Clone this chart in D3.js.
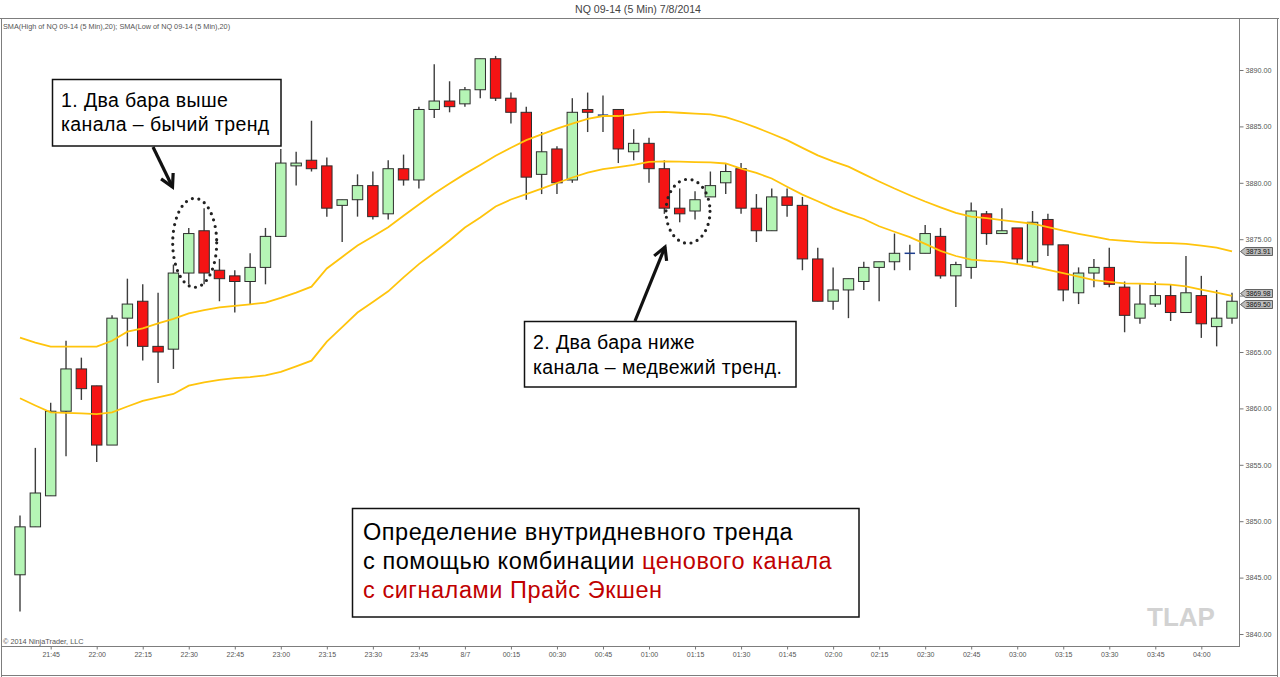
<!DOCTYPE html>
<html><head><meta charset="utf-8">
<script src="https://cdn.jsdelivr.net/npm/d3@7"></script>
<style>
body{margin:0;background:#fff}
svg{display:block}
text{font-family:Arial,"Liberation Sans",sans-serif}
</style>
</head><body>
<svg id="c" width="1280" height="677"></svg>
<script>
// ---------- data ----------
const times = ["21:35","21:40","21:45","21:50","21:55","22:00","22:05","22:10","22:15","22:20","22:25","22:30","22:35","22:40","22:45","22:50","22:55","23:00","23:05","23:10","23:15","23:20","23:25","23:30","23:35","23:40","23:45","23:50","23:55","00:00","00:05","00:10","00:15","00:20","00:25","00:30","00:35","00:40","00:45","00:50","00:55","01:00","01:05","01:10","01:15","01:20","01:25","01:30","01:35","01:40","01:45","01:50","01:55","02:00","02:05","02:10","02:15","02:20","02:25","02:30","02:35","02:40","02:45","02:50","02:55","03:00","03:05","03:10","03:15","03:20","03:25","03:30","03:35","03:40","03:45","03:50","03:55","04:00","04:05","04:10"];

const open = [3845.25,3849.5,3852.25,3859.75,3863.5,3862,3856.75,3868,3869.5,3865.5,
3865.25,3872,3875.75,3872.25,3871.75,3871.25,3872.5,3875.25,3881.5,3882,
3881.5,3878,3878.5,3879.75,3877.25,3881.25,3880.25,3886.5,3887.25,3887,
3888.25,3891,3887.5,3886.25,3880.75,3883,3880.25,3886.5,3886,3886.5,
3882.75,3883.5,3881.25,3877.75,3877.5,3878.75,3880,3881.25,3877.75,3875.75,
3878.75,3878,3873.25,3869.5,3870.5,3871.25,3872.5,3873,3873.75,3873.75,
3875.25,3871.75,3872.5,3877.25,3875.5,3876,3873,3876.75,3874.5,3870.25,
3872,3872.5,3870.75,3868,3869.25,3870,3868.5,3870,3867.25,3868];

const high = [3850.5,3856.5,3860.5,3866,3864.5,3862,3868.25,3871.5,3871,3870.25,
3872.75,3876,3877.75,3873.25,3872.25,3873.75,3876,3883,3882.75,3885.5,
3882.25,3878.5,3880.75,3881,3882,3882.5,3886.75,3890.5,3889,3888.5,
3891,3891.25,3888,3886.75,3884.5,3883.25,3887.5,3888,3887.75,3886.5,
3884.75,3884,3882,3879.5,3879.25,3881,3881.75,3881.75,3879,3879.5,
3879.5,3878.75,3874.25,3872.5,3871.5,3873,3873,3875.5,3874.5,3876.25,
3876,3873,3878.25,3877.5,3877.75,3876,3877.5,3877.25,3874.5,3872.5,
3873.25,3874.25,3871.25,3871,3871.25,3871,3873.5,3871.75,3870.5,3870.25];

const low = [3842,3849.5,3852.25,3855.75,3860.75,3855.25,3856.75,3865.5,3864.25,3862.25,
3863.5,3871,3871,3869.5,3868.5,3869.25,3871,3875.25,3879.75,3881,
3877,3874.75,3877,3876.75,3876.75,3879.75,3879.5,3885.75,3886.25,3886.75,
3887.5,3887.25,3885.25,3878.5,3879,3879,3880,3884.5,3884.5,3881.75,
3882,3880,3877.25,3876.5,3876.75,3878.75,3879,3877.25,3874.75,3875.75,
3877,3872.25,3869.5,3868.75,3868,3870.5,3869.5,3872.25,3872.25,3873.75,
3871.5,3869,3871.5,3874.5,3875.5,3872.75,3872.5,3873.5,3869.5,3869.25,
3870.75,3870.75,3866.75,3867.5,3869,3867.75,3868.5,3866.25,3865.5,3867.5];

const close = [3849.5,3852.5,3859.75,3863.5,3861.75,3856.75,3868,3869.25,3865.5,3865,
3872,3875.5,3872,3871.5,3871.25,3872.5,3875.25,3881.75,3881.75,3881.25,
3877.75,3878.5,3879.75,3877,3881.25,3880.25,3886.5,3887.25,3886.75,3888.25,
3891,3887.5,3886.25,3880.5,3882.75,3880,3886.25,3886.25,3886,3883,
3883.5,3881.25,3877.75,3877.25,3878.5,3879.75,3881,3877.75,3875.75,3878.75,
3878,3873.25,3869.5,3870.5,3871.5,3872.5,3873,3873.75,3873.75,3875.5,
3871.75,3872.75,3877.5,3875.5,3875.75,3873.25,3876.5,3874.5,3870.5,3872,
3872.5,3871,3868.25,3869.25,3870,3868.5,3870.25,3867.5,3868,3869.5];

const smaHigh = [3866.27,3865.84,3865.47,3865.47,3865.47,3865.47,3866.0,3866.8,3867.1,3867.54,
3867.93,3868.43,3868.72,3868.96,3869.08,3869.23,3869.37,3869.79,3870.26,3870.79,
3872.4,3873.43,3874.44,3875.24,3876.06,3877.08,3878.07,3879.05,3879.93,3880.79,
3881.58,3882.4,3883.11,3883.78,3884.3,3884.8,3885.25,3885.66,3885.92,3885.92,
3886.07,3886.24,3886.28,3886.21,3886.14,3886.06,3885.82,3885.39,3884.89,3884.35,
3883.78,3883.1,3882.43,3881.9,3881.43,3880.77,3880.12,3879.49,3878.9,3878.34,
3877.82,3877.33,3877.01,3876.86,3876.7,3876.54,3876.37,3876.07,3875.75,3875.48,
3875.22,3874.97,3874.86,3874.74,3874.68,3874.65,3874.58,3874.43,3874.26,3873.91];

const smaLow = [3860.9,3860.26,3859.65,3859.6,3859.56,3859.5,3859.65,3860.17,3860.67,3860.98,
3861.28,3862.01,3862.3,3862.53,3862.68,3862.78,3862.92,3863.23,3863.72,3864.23,
3865.92,3867.21,3868.5,3869.43,3870.38,3871.62,3872.79,3873.82,3874.88,3876.03,
3876.92,3877.9,3878.52,3878.99,3879.49,3879.98,3880.47,3880.91,3881.21,3881.39,
3881.59,3881.85,3881.9,3881.88,3881.84,3881.81,3881.71,3881.26,3880.88,3880.38,
3879.65,3878.95,3878.36,3877.75,3877.25,3876.79,3876.15,3875.66,3875.19,3874.58,
3873.97,3873.51,3873.19,3873.07,3872.99,3872.79,3872.58,3872.28,3871.99,3871.68,
3871.37,3871.21,3871.08,3871.06,3871.02,3870.98,3870.82,3870.54,3870.27,3869.98];

const xTickTimes  = ["21:45","22:00","22:15","22:30","22:45","23:00","23:15","23:30","23:45","00:00","00:15","00:30","00:45","01:00","01:15","01:30","01:45","02:00","02:15","02:30","02:45","03:00","03:15","03:30","03:45","04:00"];
const xTickLabels = ["21:45","22:00","22:15","22:30","22:45","23:00","23:15","23:30","23:45","8/7","00:15","00:30","00:45","01:00","01:15","01:30","01:45","02:00","02:15","02:30","02:45","03:00","03:15","03:30","03:45","04:00"];
const yTicks = [3840,3845,3850,3855,3860,3865,3870,3875,3880,3885,3890];
const markerValues = [3873.91, 3869.98, 3869.50];

const titleText = "NQ 09-14 (5 Min)  7/8/2014";
const indicatorText = "SMA(High of NQ 09-14 (5 Min),20); SMA(Low of NQ 09-14 (5 Min),20)";
const copyrightText = "\u00A9 2014 NinjaTrader, LLC";
const note1 = ["1. Два бара выше", "канала – бычий тренд"];
const note2 = ["2. Два бара ниже", "канала – медвежий тренд."];
const note3a = "Определение внутридневного тренда";
const note3b = "с помощью комбинации ";
const note3c = "ценового канала";
const note3d = "с сигналами Прайс Экшен";

// ---------- drawing ----------
const svg = d3.select("#c");
svg.append("rect").attr("width",1280).attr("height",677).attr("fill","#fff");

const x = d3.scalePoint().domain(times).range([20, 1232]);
const y = d3.scaleLinear().domain([3840, 3890]).range([634, 70]);
const bw = x.step() * 0.68;

const frameColor = "#7d7d7d";
const frame = svg.append("g").attr("stroke", frameColor).attr("stroke-width", 1).attr("fill","none");
frame.append("line").attr("x1",0).attr("x2",1279).attr("y1",18.5).attr("y2",18.5);
frame.append("line").attr("x1",1.5).attr("x2",1.5).attr("y1",18).attr("y2",677);
frame.append("line").attr("x1",1277.5).attr("x2",1277.5).attr("y1",18).attr("y2",677);
frame.append("line").attr("x1",1239.5).attr("x2",1239.5).attr("y1",18).attr("y2",647);
frame.append("line").attr("x1",1).attr("x2",1240).attr("y1",646.5).attr("y2",646.5);
frame.append("line").attr("x1",1).attr("x2",1278).attr("y1",675.5).attr("y2",675.5);

// title & labels
svg.append("text").attr("x",638).attr("y",12.5).attr("text-anchor","middle")
  .attr("font-size",10.6).attr("fill","#444").text(titleText);
svg.append("text").attr("x",3).attr("y",29).attr("font-size",7.3).attr("fill","#555").text(indicatorText);
svg.append("text").attr("x",3).attr("y",644).attr("font-size",7.3).attr("fill","#555").text(copyrightText);

// y axis (a tick label hidden behind a price marker, as in the reference, is left blank)
const coveredByMarker = v => markerValues.some(m => Math.abs(y(m) - y(v)) < 8);
const yAxis = svg.append("g").attr("transform","translate(1239.5,0)")
  .call(d3.axisRight(y).tickValues(yTicks).tickSize(4).tickPadding(2)
    .tickFormat(d => coveredByMarker(d) ? "" : d.toFixed(2)));
yAxis.select(".domain").remove();
yAxis.selectAll("line").attr("stroke","#777");
yAxis.selectAll("text").attr("font-size",7.2).attr("fill","#555").attr("font-family","Arial, sans-serif");

// x axis
const xAxis = svg.append("g").attr("transform","translate(0,646.5)")
  .call(d3.axisBottom(x).tickValues(xTickTimes).tickSize(3).tickPadding(3)
    .tickFormat(d => xTickLabels[xTickTimes.indexOf(d)]));
xAxis.select(".domain").remove();
xAxis.selectAll("line").attr("stroke","#777");
xAxis.selectAll("text").attr("font-size",7).attr("fill","#555").attr("font-family","Arial, sans-serif");

// candles
const idx = d3.range(times.length);
const cg = svg.append("g");
cg.selectAll("line.wick").data(idx).join("line").attr("class","wick")
  .attr("x1", i => x(times[i])).attr("x2", i => x(times[i]))
  .attr("y1", i => y(high[i])).attr("y2", i => y(low[i]))
  .attr("stroke","#3d3d3d").attr("stroke-width",1.4);
cg.selectAll("rect.body").data(idx.filter(i => open[i] !== close[i])).join("rect").attr("class","body")
  .attr("x", i => x(times[i]) - bw/2)
  .attr("y", i => y(Math.max(open[i], close[i])))
  .attr("width", bw)
  .attr("height", i => Math.max(1, y(Math.min(open[i], close[i])) - y(Math.max(open[i], close[i]))))
  .attr("fill", i => close[i] > open[i] ? "#b5f5b5" : "#f41414")
  .attr("stroke","#2e2e2e").attr("stroke-width",1);
cg.selectAll("line.doji").data(idx.filter(i => open[i] === close[i])).join("line").attr("class","doji")
  .attr("x1", i => x(times[i]) - bw/2).attr("x2", i => x(times[i]) + bw/2)
  .attr("y1", i => y(close[i])).attr("y2", i => y(close[i]))
  .attr("stroke","#1f3f8f").attr("stroke-width",1.5);

// SMA channel
const line = d3.line().x((d,i) => x(times[i])).y(d => y(d));
svg.append("path").attr("d", line(smaHigh)).attr("fill","none").attr("stroke","#ffc40c").attr("stroke-width",1.8);
svg.append("path").attr("d", line(smaLow)).attr("fill","none").attr("stroke","#ffc40c").attr("stroke-width",1.8);

// price markers (the two lower ones are nudged apart slightly so their texts stay readable)
const markerNudge = [0, -2.5, 2.5];
markerValues.forEach((v, k) => {
  const yy = Math.round(y(v) + markerNudge[k]) + 0.5;
  const g = svg.append("g");
  g.append("path").attr("d", `M1240.5,${yy} L1245.5,${yy-4} L1272.5,${yy-4} L1272.5,${yy+4} L1245.5,${yy+4} Z`)
    .attr("fill","#bdbdbd").attr("stroke","#444").attr("stroke-width",0.8);
  g.append("text").attr("x",1246).attr("y",yy+2.4).attr("font-size",6.8).attr("fill","#111").text(v.toFixed(2));
});

// annotations
const ann = svg.append("g");
function box(x0,y0,x1,y1){
  ann.append("rect").attr("x",x0).attr("y",y0).attr("width",x1-x0).attr("height",y1-y0)
    .attr("fill","#fff").attr("stroke","#111").attr("stroke-width",1.5);
}
function arrow(x1,y1,x2,y2){
  const a = Math.atan2(y2-y1, x2-x1), L = 14, w = 0.5;
  ann.append("line").attr("x1",x1).attr("y1",y1).attr("x2",x2).attr("y2",y2)
    .attr("stroke","#111").attr("stroke-width",3.2);
  ann.append("path").attr("d",
      `M${x2 - L*Math.cos(a-w)},${y2 - L*Math.sin(a-w)} L${x2},${y2} L${x2 - L*Math.cos(a+w)},${y2 - L*Math.sin(a+w)}`)
    .attr("fill","none").attr("stroke","#111").attr("stroke-width",3.2).attr("stroke-linejoin","miter");
}
function dotted(cx,cy,rx,ry){
  ann.append("ellipse").attr("cx",cx).attr("cy",cy).attr("rx",rx).attr("ry",ry)
    .attr("fill","none").attr("stroke","#222").attr("stroke-width",3.2)
    .attr("stroke-linecap","round").attr("stroke-dasharray","0 6.6");
}
function noteText(xp, yp, s){
  ann.append("text").attr("x",xp).attr("y",yp).attr("font-size",19.5)
    .attr("letter-spacing",0.4).attr("fill","#000").text(s);
}

box(52.5,79.5,281,146);
noteText(61,107,note1[0]);
noteText(61,131,note1[1]);
arrow(153,147,172.5,187);
dotted(194.7,242.8,22,44.5);

dotted(688,211.3,22,32);
arrow(635,321,665,247);
box(524.5,321.5,796,387);
noteText(533,349,note2[0]);
noteText(533,374,note2[1]);

box(352.5,508.5,859,617);
const t3 = ann.append("text").attr("font-size",23.5).attr("letter-spacing",0.55).attr("fill","#000");
t3.append("tspan").attr("x",363).attr("y",540).text(note3a);
t3.append("tspan").attr("x",363).attr("y",569).text(note3b);
t3.append("tspan").attr("fill","#c00000").text(note3c);
t3.append("tspan").attr("x",363).attr("y",598).attr("fill","#c00000").text(note3d);

svg.append("text").attr("x",1147).attr("y",626).attr("font-size",26).attr("font-weight","bold")
  .attr("fill","#d2d2d2").text("TLAP");
</script>
</body></html>
